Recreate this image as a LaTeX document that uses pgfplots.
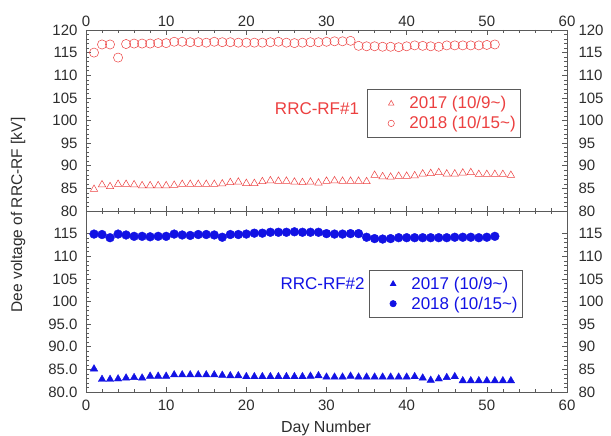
\documentclass[border=0pt]{standalone}
\usepackage{fontspec}
\setmainfont{Liberation Sans}
\usepackage{pgfplots}
\usepackage{pgfplotstable}
\pgfplotsset{compat=1.18}

\definecolor{rfred}{RGB}{236,64,64}
\definecolor{rfblue}{RGB}{18,18,228}
\definecolor{axgray}{RGB}{90,90,90}
\definecolor{lblgray}{RGB}{45,45,45}

% RF#1, 2017 (triangles) and 2018 (circles)
\pgfplotstableread{
day v
1 84.8
2 85.8
3 85.4
4 85.9
5 85.9
6 85.8
7 85.6
8 85.6
9 85.6
10 85.6
11 85.7
12 85.9
13 85.9
14 85.9
15 85.9
16 85.9
17 86.0
18 86.3
19 86.4
20 86.1
21 86.1
22 86.5
23 86.7
24 86.6
25 86.6
26 86.4
27 86.3
28 86.4
29 86.2
30 86.6
31 86.7
32 86.6
33 86.6
34 86.6
35 86.5
36 87.9
37 87.6
38 87.5
39 87.7
40 87.7
41 87.8
42 88.2
43 88.3
44 88.5
45 88.2
46 88.2
47 88.4
48 88.5
49 88.1
50 88.1
51 88.1
52 88.1
53 87.9
}\rfonea
\pgfplotstableread{
day v
1 115.0
2 116.8
3 116.8
4 113.9
5 116.9
6 117.0
7 117.0
8 117.0
9 117.1
10 117.1
11 117.4
12 117.4
13 117.3
14 117.3
15 117.2
16 117.4
17 117.3
18 117.3
19 117.2
20 117.2
21 117.2
22 117.2
23 117.3
24 117.4
25 117.2
26 117.1
27 117.2
28 117.3
29 117.3
30 117.4
31 117.5
32 117.5
33 117.6
34 116.5
35 116.4
36 116.4
37 116.3
38 116.3
39 116.2
40 116.4
41 116.6
42 116.5
43 116.4
44 116.3
45 116.6
46 116.6
47 116.6
48 116.6
49 116.6
50 116.7
51 116.8
}\rfoneb
% RF#2
\pgfplotstableread{
day v
1 85.1
2 82.8
3 82.8
4 82.9
5 83.1
6 83.2
7 83.1
8 83.5
9 83.5
10 83.5
11 83.8
12 83.8
13 83.8
14 83.8
15 83.8
16 83.8
17 83.7
18 83.6
19 83.6
20 83.4
21 83.4
22 83.4
23 83.4
24 83.4
25 83.4
26 83.4
27 83.4
28 83.5
29 83.6
30 83.3
31 83.3
32 83.3
33 83.5
34 83.3
35 83.3
36 83.3
37 83.3
38 83.3
39 83.3
40 83.3
41 83.4
42 83.1
43 82.6
44 82.9
45 83.2
46 83.4
47 82.5
48 82.5
49 82.5
50 82.5
51 82.5
52 82.5
53 82.5
}\rftwoa
\pgfplotstableread{
day v
1 114.9
2 114.8
3 114.1
4 114.9
5 114.7
6 114.4
7 114.4
8 114.3
9 114.4
10 114.4
11 114.9
12 114.7
13 114.6
14 114.8
15 114.8
16 114.7
17 114.2
18 114.8
19 114.8
20 114.9
21 115.1
22 115.1
23 115.3
24 115.3
25 115.3
26 115.4
27 115.3
28 115.3
29 115.3
30 115.0
31 114.9
32 114.9
33 115.0
34 115.0
35 114.2
36 113.9
37 113.8
38 113.9
39 114.1
40 114.1
41 114.1
42 114.1
43 114.1
44 114.1
45 114.1
46 114.2
47 114.2
48 114.2
49 114.1
50 114.2
51 114.4
}\rftwob

\pgfplotsset{
  panel/.style={
    scale only axis, width=481pt, height=181pt,
    xmin=0, xmax=60, ymin=80, ymax=120,
    xtick={0,10,...,60}, minor x tick num=4,
    minor y tick num=4,
    tick align=inside,
    major tick length=5pt, minor tick length=3pt,
    axis line style={axgray, line width=0.7pt},
    every tick/.style={axgray, line width=0.5pt},
    tick label style={font=\fontsize{15}{15}\selectfont, text=lblgray},
    /pgf/number format/assume math mode=true,
    clip=false,
  },
  lgd/.style={
    legend cell align=left,
    legend image code/.code={%
      \path[draw=none, fill=none] (0pt,-5pt) rectangle (1pt,5pt);
      \draw[##1, mark size=3.2pt] plot coordinates {(21pt,0pt)};},
    legend style={draw=axgray, line width=0.6pt, anchor=north west,
      font=\fontsize{17}{18}\selectfont, inner xsep=3pt, inner ysep=5pt,
      row sep=2pt, text=#1,
      /tikz/every odd column/.append style={column sep=13pt}},
  },
}

\begin{document}
\begin{tikzpicture}
\useasboundingbox (-86pt,-44pt) rectangle (525pt,392pt);

% ---- top panel: RRC-RF#1
\begin{axis}[panel, at={(0,181pt)}, anchor=south west,
  xticklabel pos=top, xtick pos=both, ytick pos=both,
  yticklabel pos=left, ytick={80,85,...,120},
  yticklabel style={xshift=-5pt},
  lgd=rfred, legend style={at={(0.584,0.672)}}]
\addplot[only marks, mark=triangle, mark size=4.3pt, color=rfred, line width=0.5pt] table[x=day,y=v] {\rfonea};
\addlegendentry{2017 (10/9\textasciitilde)}
\addplot[only marks, mark=o, mark size=4.6pt, color=rfred, line width=0.5pt] table[x=day,y=v] {\rfoneb};
\addlegendentry{2018 (10/15\textasciitilde)}
\node[anchor=east, text=rfred, font=\fontsize{17}{17}\selectfont] at (axis cs:34.5,102.7) {RRC-RF\#1};
\end{axis}
\begin{axis}[panel, at={(0,181pt)}, anchor=south west,
  axis x line=none, axis y line*=right, ytick={80,85,...,120},
  yticklabel style={xshift=8pt}]
\addplot[draw=none] coordinates {(0,80)};
\end{axis}

% ---- bottom panel: RRC-RF#2
\begin{axis}[panel, at={(0,0)}, anchor=south west,
  xticklabel pos=bottom, xtick pos=both, ytick pos=both,
  xticklabel style={yshift=-4pt},
  yticklabel pos=left, ytick={80,85,...,115},
  yticklabel style={xshift=-5pt},
  yticklabels={80.0,85.0,90.0,95.0,100,105,110,115},
  lgd=rfblue, legend style={at={(0.588,0.676)}}]
\addplot[only marks, mark=triangle*, mark size=4.3pt, color=rfblue] table[x=day,y=v] {\rftwoa};
\addlegendentry{2017 (10/9\textasciitilde)}
\addplot[only marks, mark=*, mark size=4.4pt, color=rfblue] table[x=day,y=v] {\rftwob};
\addlegendentry{2018 (10/15\textasciitilde)}
\node[anchor=east, text=rfblue, font=\fontsize{17}{17}\selectfont] at (axis cs:35.2,104.0) {RRC-RF\#2};
\end{axis}
\begin{axis}[panel, at={(0,0)}, anchor=south west,
  axis x line=none, axis y line*=right, ytick={80,85,...,115},
  yticklabel style={xshift=8pt}]
\addplot[draw=none] coordinates {(0,80)};
\end{axis}

\node[rotate=90, text=lblgray, font=\fontsize{15.5}{15.5}\selectfont] at (-68pt,177pt) {Dee voltage of RRC-RF [kV]};
\node[text=lblgray, font=\fontsize{16}{16}\selectfont] at (240pt,-36pt) {Day Number};
\end{tikzpicture}
\end{document}
